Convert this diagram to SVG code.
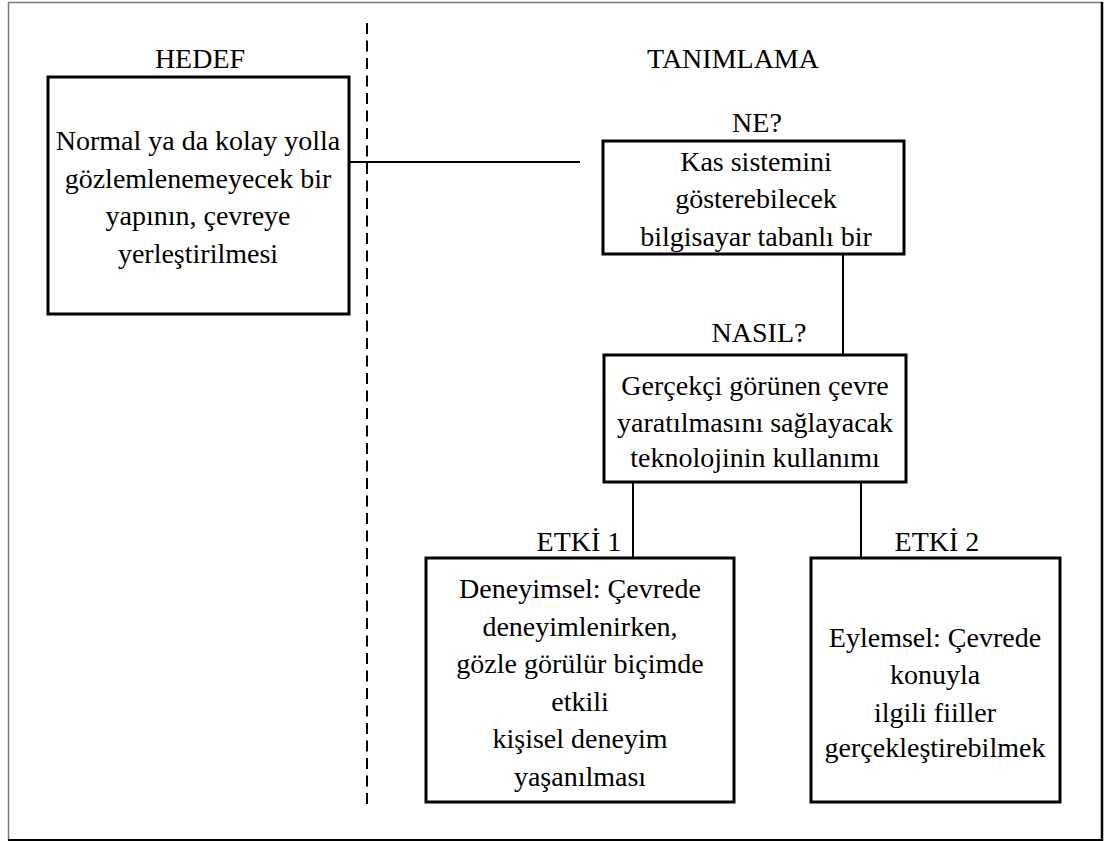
<svg xmlns="http://www.w3.org/2000/svg" width="1105" height="841" viewBox="0 0 1105 841">
<style>
.box{fill:#fff;stroke:#000;stroke-width:3}
.con{stroke:#000;stroke-width:2;fill:none}
text{font-family:'Liberation Serif',Tinos,'DejaVu Serif',serif;font-size:28px;fill:#000;text-anchor:middle}
</style>
<rect width="1105" height="841" fill="#fff"/>
<g id="frame">
<line x1="8.5" y1="2" x2="8.5" y2="840" stroke="#777" stroke-width="1.5"/>
<line x1="8" y1="2.5" x2="1102" y2="2.5" stroke="#777" stroke-width="1.5"/>
<line x1="1102" y1="2" x2="1102" y2="841" stroke="#000" stroke-width="2.5"/>
<line x1="8" y1="840" x2="1103" y2="840" stroke="#000" stroke-width="2"/>
<line x1="367" y1="23" x2="367" y2="805" stroke="#000" stroke-width="2" stroke-dasharray="11,6.5"/>
</g>
<text id="lbl-hedef" x="200" y="68">HEDEF</text>
<text id="lbl-tanimlama" x="733" y="68">TANIMLAMA</text>
<g id="connectors">
<line class="con" x1="349" y1="162" x2="580" y2="162"/>
<line class="con" x1="843" y1="254" x2="843" y2="355"/>
<line class="con" x1="633" y1="482" x2="633" y2="558"/>
<line class="con" x1="861" y1="482" x2="861" y2="558"/>
</g>
<g id="hedef">
<rect class="box" x="48" y="77" width="301" height="237"/>
<text x="198" y="150">Normal ya da kolay yolla</text>
<text x="198" y="188">gözlemlenemeyecek bir</text>
<text x="198" y="225">yapının, çevreye</text>
<text x="198" y="263">yerleştirilmesi</text>
</g>
<g id="ne">
<text x="757" y="132">NE?</text>
<rect class="box" x="603" y="141" width="301" height="113"/>
<text x="756" y="171">Kas sistemini</text>
<text x="756" y="208">gösterebilecek</text>
<text x="756" y="246">bilgisayar tabanlı bir</text>
</g>
<g id="nasil">
<text x="759" y="342">NASIL?</text>
<rect class="box" x="604" y="355" width="302" height="127"/>
<text x="755" y="395">Gerçekçi görünen çevre</text>
<text x="755" y="432">yaratılmasını sağlayacak</text>
<text x="755" y="467">teknolojinin kullanımı</text>
</g>
<g id="etki1">
<text x="579" y="551">ETKİ 1</text>
<rect class="box" x="426" y="558" width="308" height="244"/>
<text x="580" y="598">Deneyimsel: Çevrede</text>
<text x="580" y="636">deneyimlenirken,</text>
<text x="580" y="673">gözle görülür biçimde</text>
<text x="580" y="711">etkili</text>
<text x="580" y="748">kişisel deneyim</text>
<text x="580" y="786">yaşanılması</text>
</g>
<g id="etki2">
<text x="937" y="551">ETKİ 2</text>
<rect class="box" x="811" y="558" width="249" height="244"/>
<text x="935" y="647">Eylemsel: Çevrede</text>
<text x="935" y="684">konuyla</text>
<text x="935" y="722">ilgili fiiller</text>
<text x="935" y="757">gerçekleştirebilmek</text>
</g>
</svg>
